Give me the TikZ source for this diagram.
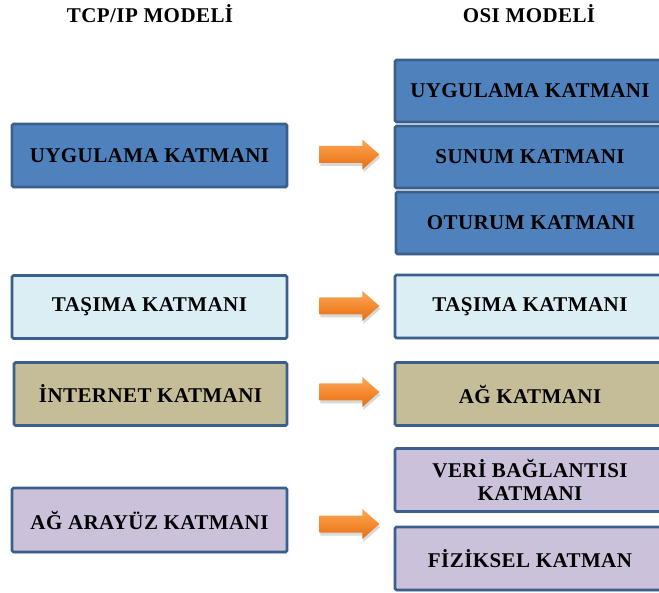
\documentclass[tikz,border=0pt]{standalone}
\usepackage{fontspec}
\setmainfont{Liberation Serif}
\usetikzlibrary{shadows,calc}

\definecolor{applblue}{HTML}{4F81BD}
\definecolor{edgeblue}{HTML}{3A5F8C}
\definecolor{paleblue}{HTML}{DAEEF3}
\definecolor{khaki}{HTML}{C4BD97}
\definecolor{lavender}{HTML}{CCC1DA}
\definecolor{orangetop}{HTML}{F9A85E}
\definecolor{orangemid}{HTML}{F58A2E}
\definecolor{orangebot}{HTML}{E0701A}

\newcommand{\labelfont}{\bfseries\fontsize{21}{23}\selectfont\addfontfeatures{LetterSpace=2}}

\tikzset{
  layer/.style={draw=edgeblue, line width=2.8pt, rounded corners=1.5pt,
    inner sep=0pt, align=center, font=\labelfont,
    drop shadow={opacity=0.25, shadow xshift=1pt, shadow yshift=-1.5pt}},
  leftlayer/.style={layer, minimum width=275pt},
  rightlayer/.style={layer, minimum width=270pt},
  heading/.style={font=\labelfont, inner sep=0pt},
  blockarrow/.style={top color=orangetop, bottom color=orangebot, middle color=orangemid,
    drop shadow={opacity=0.3, shadow xshift=1pt, shadow yshift=-3pt}}
}

% an orange block arrow pointing right, centred on the given coordinate
\newcommand{\rightblock}[1]{%
  \path[blockarrow] ($(#1)+(-30,-8.5)$) -- ($(#1)+(13,-8.5)$) -- ($(#1)+(13,-15)$)
    -- ($(#1)+(30,0)$) -- ($(#1)+(13,15)$) -- ($(#1)+(13,8.5)$)
    -- ($(#1)+(-30,8.5)$) -- cycle;}

\begin{document}
\begin{tikzpicture}[x=1pt,y=-1pt]
\useasboundingbox (0,0) rectangle (659,593);
\clip (0,0) rectangle (659,593);

% column headings
\node[heading] (tcphead) at (150,14) {TCP/IP MODELİ};
\node[heading] (osihead) at (529,14) {OSI MODELİ};

% TCP/IP layers
\node[leftlayer, fill=applblue, minimum height=63pt] (lapp) at (149.5,155.5) {UYGULAMA KATMANI};
\node[leftlayer, fill=paleblue, minimum height=63pt] (ltra) at (149.5,307) {TAŞIMA KATMANI};
\node[leftlayer, fill=khaki, minimum height=63pt, minimum width=273pt] (lint) at (150.5,394) {İNTERNET KATMANI};
\node[leftlayer, fill=lavender, minimum height=64pt] (lnet) at (149.5,520) {AĞ ARAYÜZ KATMANI};

% OSI layers
\node[rightlayer, fill=applblue, minimum height=62pt] (rapp) at (530,91) {UYGULAMA KATMANI};
\node[rightlayer, fill=applblue, minimum height=62pt] (rpre) at (530,157) {SUNUM KATMANI};
\node[rightlayer, fill=applblue, minimum height=62pt] (rses) at (531,223) {OTURUM KATMANI};
\node[rightlayer, fill=paleblue, minimum height=63pt] (rtra) at (530,306.5) {TAŞIMA KATMANI};
\node[rightlayer, fill=khaki, minimum height=63pt] (rnet) at (530,394) {AĞ KATMANI};
\node[rightlayer, fill=lavender, minimum height=63pt] (rdat) at (530,480) {VERİ BAĞLANTISI\\KATMANI};
\node[rightlayer, fill=lavender, minimum height=63pt] (rphy) at (530,558.5) {FİZİKSEL KATMAN};

% mapping arrows
\coordinate (m1) at ($(lapp.east)+(61,-1)$);
\coordinate (m2) at ($(ltra.east)+(61,-1)$);
\coordinate (m3) at ($(lint.east)+(61,-2)$);
\coordinate (m4) at ($(lnet.east)+(61,4)$);
\rightblock{m1}
\rightblock{m2}
\rightblock{m3}
\rightblock{m4}
\end{tikzpicture}
\end{document}
